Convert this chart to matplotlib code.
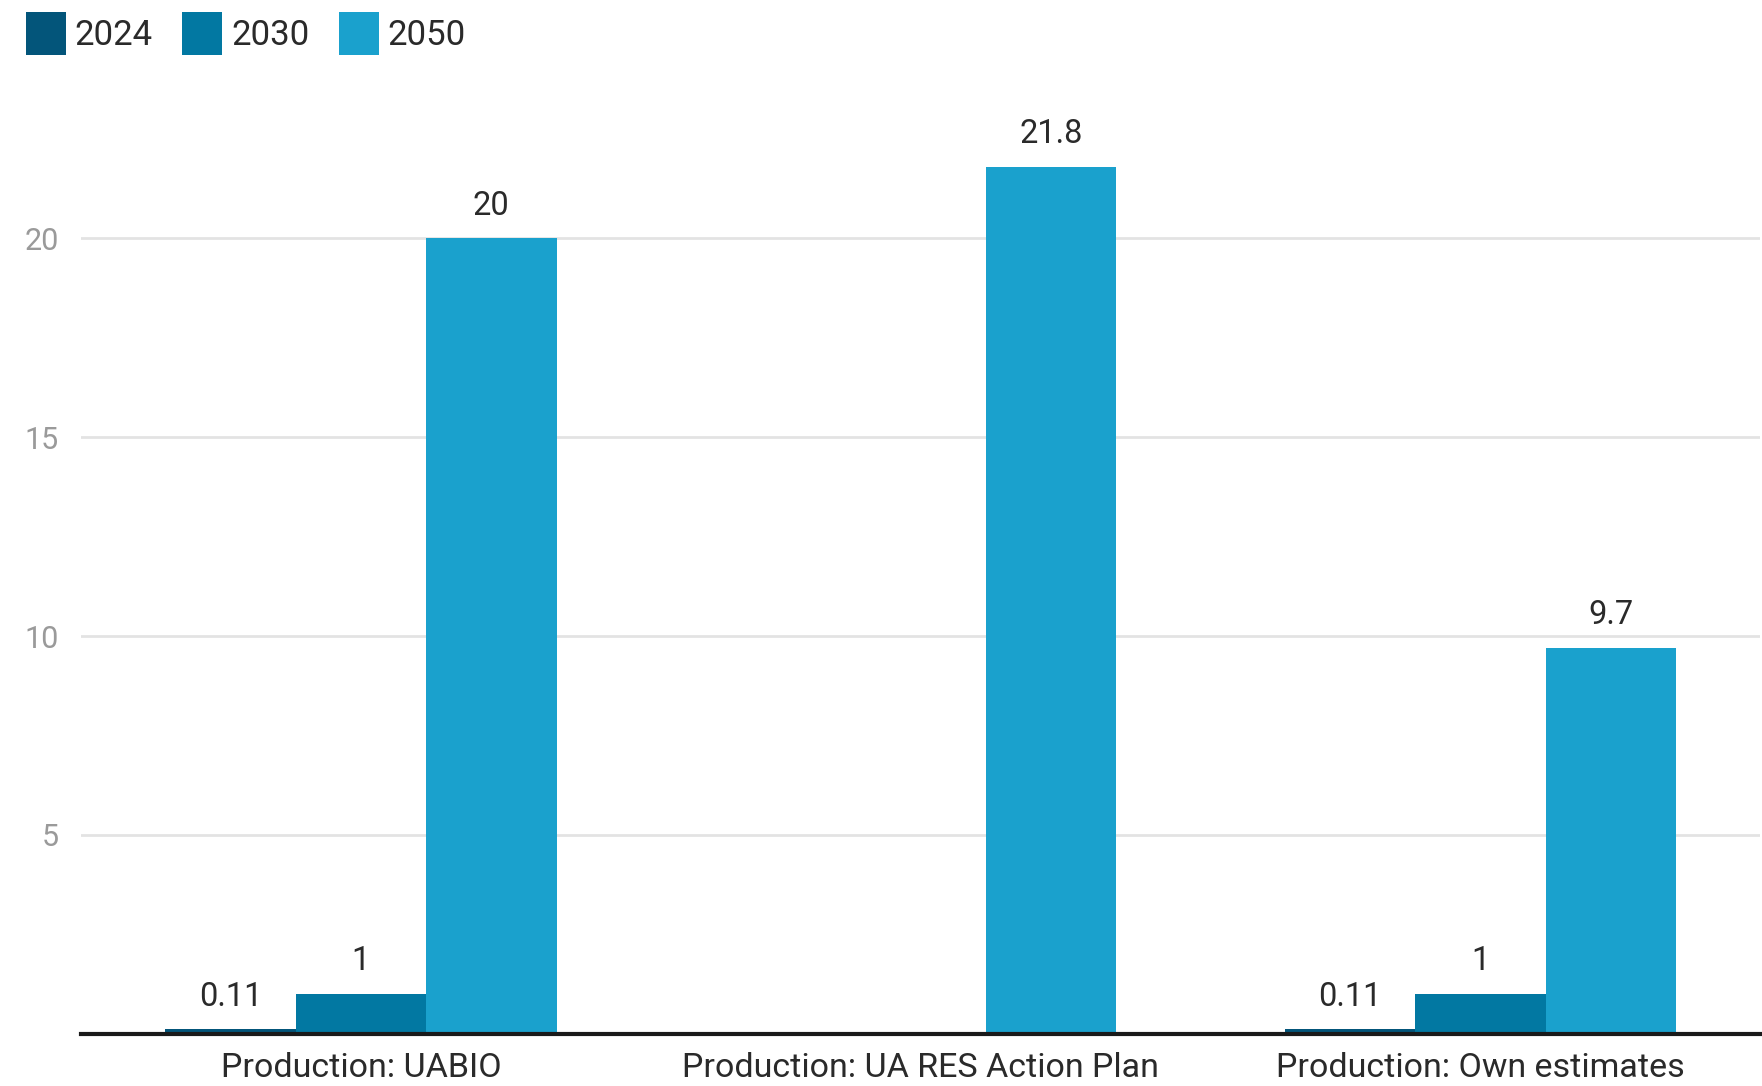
import numpy as np
import matplotlib.pyplot as plt

plt.rcParams['font.family'] = ['Roboto', 'DejaVu Sans']

categories = ['Production: UABIO', 'Production: UA RES Action Plan', 'Production: Own estimates']
years = ['2024', '2030', '2050']
v2024 = [0.11, np.nan, 0.11]
v2030 = [1, np.nan, 1]
v2050 = [20, 21.8, 9.7]
colors = ['#03557a', '#0278a2', '#1aa1cd']

fig = plt.figure(figsize=(17.62, 10.86), dpi=100)
ax = fig.add_axes([0.046, 0.048, 0.953, 0.879])

x = np.arange(len(categories))
w = 0.233
for i, (vals, c, lab) in enumerate(zip([v2024, v2030, v2050], colors, years)):
    bars = ax.bar(x + (i - 1) * w, vals, width=w, color=c, label=lab, zorder=3)
    for b, v in zip(bars, vals):
        if np.isnan(v):
            continue
        txt = f'{v:g}'
        ax.annotate(txt, (b.get_x() + b.get_width() / 2, v), xytext=(0, 12),
                    textcoords='offset points', ha='center', va='bottom',
                    fontsize=23.5, color='#2a2a2a')

ax.set_xlim(-0.5, 2.5)
ax.set_ylim(0, 24)
ax.set_yticks([5, 10, 15, 20])
ax.set_xticks(x)
ax.set_xticklabels(categories, fontsize=24.5, color='#2a2a2a')
ax.tick_params(axis='x', length=0, pad=13)
ax.tick_params(axis='y', length=0, pad=16, labelsize=22, labelcolor='#9a9a9a')
ax.grid(axis='y', color='#e3e3e3', linewidth=2, zorder=0)
for s in ['top', 'right', 'left']:
    ax.spines[s].set_visible(False)
ax.spines['bottom'].set_linewidth(3)
ax.spines['bottom'].set_color('#1a1a1a')
ax.spines['bottom'].set_zorder(4)

fig.legend(loc='upper left', bbox_to_anchor=(0.003, 1.008), ncol=3, frameon=False,
           fontsize=25, handlelength=1.15, handleheight=1.5, handletextpad=0.25,
           columnspacing=0.85, borderaxespad=0.2, labelcolor='#2a2a2a')

fig.savefig('out.png', dpi=100)
